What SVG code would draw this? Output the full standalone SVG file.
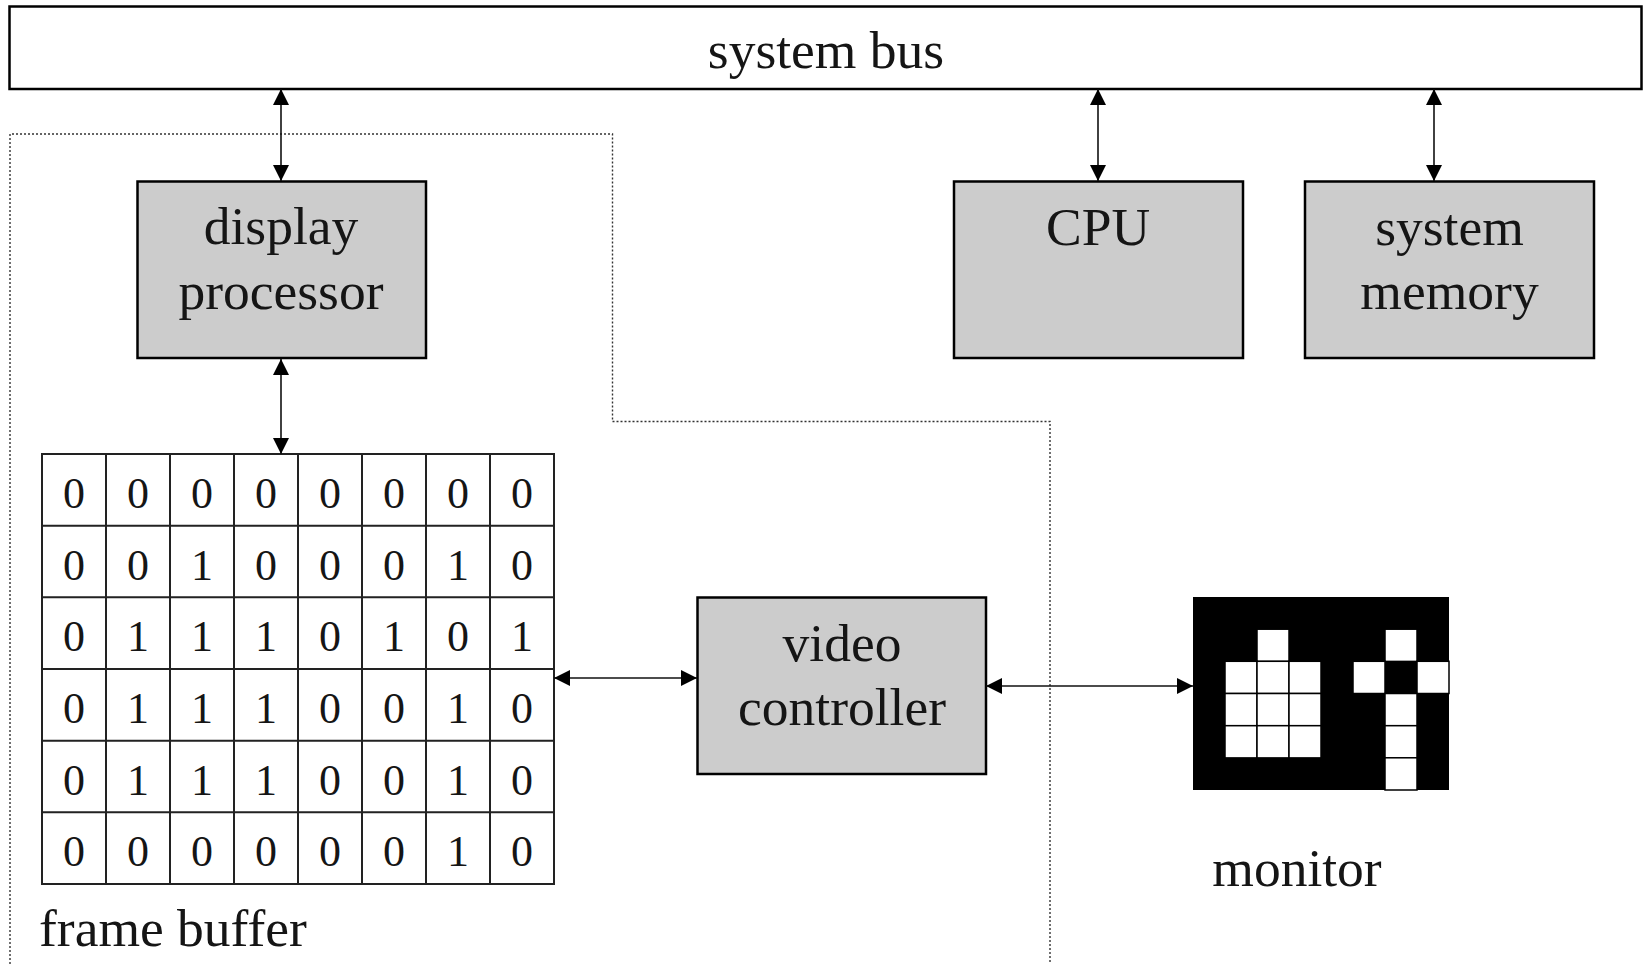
<svg xmlns="http://www.w3.org/2000/svg" width="1644" height="964" viewBox="0 0 1644 964">
  <style>
    .box { fill: #cccccc; stroke: #000; stroke-width: 2.5; }
    .bus { fill: #fff; stroke: #000; stroke-width: 2.5; }
    .lbl { font-family: "Liberation Serif", "Times New Roman", serif; font-size: 53.5px; fill: #151515; text-anchor: middle; }
    .bit { font-family: "Liberation Serif", "Times New Roman", serif; font-size: 44px; fill: #151515; text-anchor: middle; }
    .link { stroke: #111; stroke-width: 1.6; fill: none; marker-start: url(#tip); marker-end: url(#tip); }
    .cell { fill: #fff; stroke: #222; stroke-width: 2; }
    .px { fill: #fff; stroke: #000; stroke-width: 1.5; }
    .region { fill: none; stroke: #333; stroke-width: 1.4; stroke-dasharray: 2 2; }
  </style>
  <defs>
    <marker id="tip" markerUnits="userSpaceOnUse" markerWidth="16" markerHeight="16" viewBox="0 0 16 16" refX="16" refY="8" orient="auto-start-reverse">
      <path d="M0,0 L16,8 L0,16 Z" fill="#000"/>
    </marker>
  </defs>

  <!-- dotted boundary of the graphics subsystem -->
  <path class="region" d="M10,964 V134 H612.5 V421.5 H1050 V964"/>

  <g id="system-bus">
    <rect class="bus" x="9.5" y="6.5" width="1632" height="82.5"/>
    <text class="lbl" x="826" y="68">system bus</text>
  </g>

  <g id="display-processor">
    <rect class="box" x="137.5" y="181.5" width="288.5" height="176.5"/>
    <text class="lbl" x="281" y="244">display</text>
    <text class="lbl" x="281" y="309">processor</text>
  </g>

  <g id="cpu">
    <rect class="box" x="954" y="181.5" width="289" height="176.5"/>
    <text class="lbl" x="1098" y="245">CPU</text>
  </g>

  <g id="system-memory">
    <rect class="box" x="1305" y="181.5" width="289" height="176.5"/>
    <text class="lbl" x="1449.5" y="245">system</text>
    <text class="lbl" x="1449.5" y="309">memory</text>
  </g>

  <g id="video-controller">
    <rect class="box" x="697.5" y="597.5" width="288.5" height="176.5"/>
    <text class="lbl" x="842" y="661">video</text>
    <text class="lbl" x="842" y="725">controller</text>
  </g>

  <g id="frame-buffer">
    <g>
      <rect class="cell" x="42" y="454" width="512" height="430"/>
      <path stroke="#222" stroke-width="2" d="M106,454 V884 M170,454 V884 M234,454 V884 M298,454 V884 M362,454 V884 M426,454 V884 M490,454 V884 M42,525.7 H554 M42,597.3 H554 M42,669 H554 M42,740.7 H554 M42,812.3 H554"/>
    </g>
    <g class="bit">
      <text x="74" y="508">0</text><text x="138" y="508">0</text><text x="202" y="508">0</text><text x="266" y="508">0</text><text x="330" y="508">0</text><text x="394" y="508">0</text><text x="458" y="508">0</text><text x="522" y="508">0</text>
      <text x="74" y="580">0</text><text x="138" y="580">0</text><text x="202" y="580">1</text><text x="266" y="580">0</text><text x="330" y="580">0</text><text x="394" y="580">0</text><text x="458" y="580">1</text><text x="522" y="580">0</text>
      <text x="74" y="651">0</text><text x="138" y="651">1</text><text x="202" y="651">1</text><text x="266" y="651">1</text><text x="330" y="651">0</text><text x="394" y="651">1</text><text x="458" y="651">0</text><text x="522" y="651">1</text>
      <text x="74" y="723">0</text><text x="138" y="723">1</text><text x="202" y="723">1</text><text x="266" y="723">1</text><text x="330" y="723">0</text><text x="394" y="723">0</text><text x="458" y="723">1</text><text x="522" y="723">0</text>
      <text x="74" y="795">0</text><text x="138" y="795">1</text><text x="202" y="795">1</text><text x="266" y="795">1</text><text x="330" y="795">0</text><text x="394" y="795">0</text><text x="458" y="795">1</text><text x="522" y="795">0</text>
      <text x="74" y="866">0</text><text x="138" y="866">0</text><text x="202" y="866">0</text><text x="266" y="866">0</text><text x="330" y="866">0</text><text x="394" y="866">0</text><text x="458" y="866">1</text><text x="522" y="866">0</text>
    </g>
    <text class="lbl" x="39" y="946" style="text-anchor:start">frame buffer</text>
  </g>

  <g id="monitor">
    <rect x="1193" y="597" width="256" height="193" fill="#000"/>
    <!-- lit pixels: rows 1-5 of the bit pattern, 32px cells -->
    <rect class="px" x="1257" y="629.2" width="32" height="32.2"/>
    <rect class="px" x="1385" y="629.2" width="32" height="32.2"/>
    <rect class="px" x="1225" y="661.3" width="32" height="32.2"/>
    <rect class="px" x="1257" y="661.3" width="32" height="32.2"/>
    <rect class="px" x="1289" y="661.3" width="32" height="32.2"/>
    <rect class="px" x="1353" y="661.3" width="32" height="32.2"/>
    <rect class="px" x="1417" y="661.3" width="32" height="32.2"/>
    <rect class="px" x="1225" y="693.5" width="32" height="32.2"/>
    <rect class="px" x="1257" y="693.5" width="32" height="32.2"/>
    <rect class="px" x="1289" y="693.5" width="32" height="32.2"/>
    <rect class="px" x="1385" y="693.5" width="32" height="32.2"/>
    <rect class="px" x="1225" y="725.7" width="32" height="32.2"/>
    <rect class="px" x="1257" y="725.7" width="32" height="32.2"/>
    <rect class="px" x="1289" y="725.7" width="32" height="32.2"/>
    <rect class="px" x="1385" y="725.7" width="32" height="32.2"/>
    <rect class="px" x="1385" y="757.8" width="32" height="32.2"/>
    <text class="lbl" x="1297" y="886">monitor</text>
  </g>

  <g id="connectors">
    <line class="link" x1="281" y1="89" x2="281" y2="181"/>
    <line class="link" x1="1098" y1="89" x2="1098" y2="181"/>
    <line class="link" x1="1434" y1="89" x2="1434" y2="181"/>
    <line class="link" x1="281" y1="359" x2="281" y2="454"/>
    <line class="link" x1="554" y1="678" x2="697" y2="678"/>
    <line class="link" x1="986" y1="686" x2="1193" y2="686"/>
  </g>
</svg>
